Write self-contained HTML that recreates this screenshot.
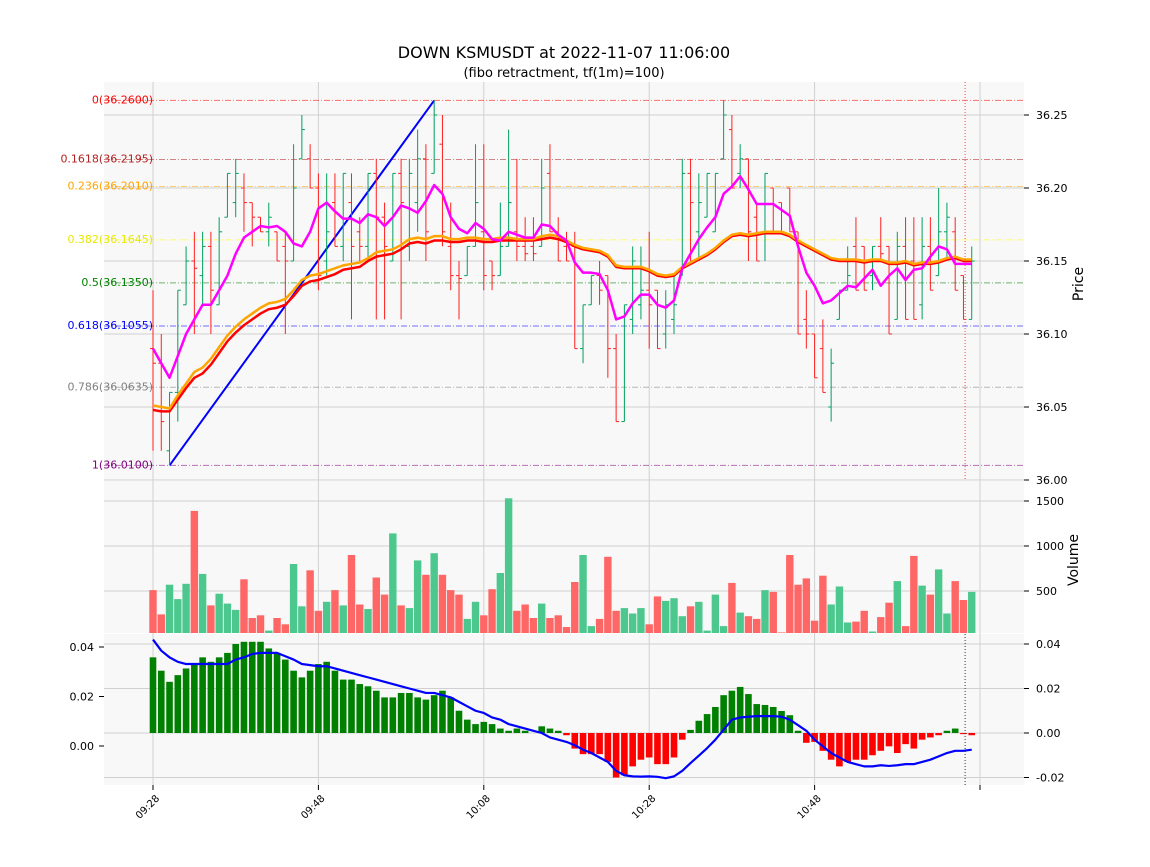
<!DOCTYPE html>
<html><head><meta charset="utf-8">
<style>
html,body{margin:0;padding:0;background:#fff;}
svg text{font-family:"DejaVu Sans","Liberation Sans",sans-serif;}
</style></head>
<body>
<svg id="chart" width="1150" height="862" viewBox="0 0 1150 862" xmlns="http://www.w3.org/2000/svg">
<text x="564" y="58" text-anchor="middle" font-size="16" fill="#000">DOWN KSMUSDT at 2022-11-07 11:06:00</text>
<text x="564" y="77" text-anchor="middle" font-size="13" fill="#000">(fibo retractment, tf(1m)=100)</text>
<rect x="104" y="82" width="920" height="398" fill="#f8f8f8"/>
<rect x="104" y="481" width="920" height="152" fill="#f8f8f8"/>
<rect x="104" y="634" width="920" height="151" fill="#f8f8f8"/>
<g id="grid"></g>
<g id="marks"></g>
<text transform="translate(1083,284) rotate(-90)" text-anchor="middle" font-size="14">Price</text>
<text transform="translate(1078,560) rotate(-90)" text-anchor="middle" font-size="14">Volume</text>
</svg>
<script>
const times=['09:28','09:48','10:08','10:28','10:48',''];
const timeTickIdx=[0,20,40,60,80,100];
const O=[36.09,36.08,36.02,36.06,36.12,36.15,36.14,36.16,36.12,36.18,36.19,36.20,36.19,36.18,36.17,36.17,36.16,36.15,36.22,36.22,36.20,36.15,36.19,36.16,36.19,36.17,36.16,36.21,36.18,36.15,36.21,36.16,36.19,36.22,36.21,36.23,36.16,36.14,36.14,36.16,36.17,36.15,36.14,36.16,36.17,36.16,36.16,36.16,36.21,36.17,36.16,36.16,36.09,36.12,36.14,36.14,36.09,36.04,36.11,36.12,36.13,36.13,36.10,36.11,36.14,36.21,36.17,36.18,36.17,36.22,36.24,36.21,36.22,36.18,36.17,36.20,36.19,36.20,36.17,36.11,36.10,36.09,36.05,36.11,36.13,36.16,36.16,36.14,36.16,36.16,36.11,36.16,36.15,36.12,36.16,36.14,36.17,36.17,36.14,36.11];
const H=[36.13,36.10,36.06,36.13,36.16,36.17,36.17,36.17,36.18,36.21,36.22,36.21,36.19,36.18,36.19,36.17,36.17,36.23,36.25,36.23,36.21,36.21,36.21,36.21,36.21,36.18,36.21,36.22,36.19,36.21,36.22,36.22,36.24,36.23,36.26,36.25,36.19,36.15,36.16,36.23,36.23,36.15,36.19,36.24,36.22,36.18,36.18,36.22,36.23,36.18,36.17,36.17,36.12,36.14,36.15,36.14,36.10,36.12,36.16,36.16,36.17,36.13,36.13,36.14,36.22,36.22,36.21,36.21,36.21,36.26,36.25,36.23,36.22,36.19,36.21,36.20,36.19,36.20,36.17,36.13,36.10,36.11,36.09,36.13,36.16,36.18,36.16,36.16,36.18,36.16,36.17,36.18,36.18,36.18,36.18,36.20,36.19,36.18,36.14,36.16];
const L=[36.02,36.02,36.01,36.04,36.12,36.10,36.12,36.10,36.12,36.18,36.18,36.17,36.16,36.17,36.16,36.15,36.10,36.15,36.22,36.20,36.13,36.14,36.16,36.15,36.11,36.15,36.15,36.11,36.11,36.15,36.11,36.15,36.17,36.15,36.21,36.16,36.13,36.11,36.14,36.16,36.13,36.13,36.14,36.16,36.15,36.15,36.15,36.16,36.17,36.15,36.15,36.09,36.08,36.12,36.12,36.07,36.04,36.04,36.10,36.11,36.09,36.09,36.09,36.10,36.14,36.15,36.15,36.18,36.17,36.22,36.20,36.20,36.15,36.15,36.15,36.17,36.17,36.17,36.10,36.09,36.07,36.06,36.04,36.11,36.13,36.13,36.13,36.13,36.15,36.10,36.11,36.11,36.11,36.11,36.13,36.14,36.15,36.13,36.11,36.11];
const C=[36.08,36.04,36.06,36.13,36.15,36.145,36.16,36.13,36.17,36.21,36.21,36.19,36.18,36.17,36.18,36.15,36.15,36.20,36.24,36.20,36.14,36.17,36.16,36.21,36.16,36.16,36.21,36.18,36.16,36.21,36.19,36.21,36.22,36.17,36.25,36.17,36.14,36.138,36.16,36.19,36.14,36.14,36.16,36.19,36.16,36.155,36.155,36.20,36.17,36.15,36.15,36.09,36.12,36.14,36.13,36.09,36.04,36.12,36.15,36.13,36.12,36.09,36.12,36.12,36.21,36.19,36.19,36.21,36.21,36.25,36.20,36.22,36.17,36.15,36.21,36.17,36.17,36.17,36.10,36.10,36.07,36.06,36.08,36.13,36.14,36.13,36.13,36.16,36.155,36.10,36.16,36.11,36.11,36.16,36.13,36.17,36.18,36.13,36.11,36.15];
const maRed=[36.048,36.047,36.047,36.055,36.063,36.070,36.073,36.079,36.087,36.095,36.101,36.106,36.110,36.114,36.117,36.118,36.120,36.126,36.133,36.136,36.137,36.139,36.141,36.144,36.145,36.146,36.150,36.153,36.154,36.155,36.158,36.162,36.163,36.162,36.164,36.164,36.163,36.163,36.164,36.164,36.163,36.163,36.164,36.164,36.164,36.164,36.164,36.165,36.166,36.165,36.163,36.160,36.158,36.157,36.156,36.153,36.146,36.145,36.145,36.145,36.143,36.140,36.139,36.140,36.145,36.148,36.151,36.154,36.158,36.163,36.167,36.168,36.167,36.168,36.169,36.169,36.169,36.167,36.163,36.160,36.157,36.154,36.151,36.150,36.150,36.150,36.149,36.150,36.150,36.148,36.148,36.149,36.147,36.148,36.148,36.149,36.151,36.152,36.150,36.150];
const maOrange=[36.051,36.050,36.049,36.058,36.066,36.074,36.077,36.083,36.091,36.099,36.105,36.110,36.114,36.118,36.121,36.122,36.124,36.130,36.137,36.140,36.141,36.143,36.145,36.147,36.148,36.149,36.152,36.156,36.157,36.158,36.161,36.165,36.166,36.165,36.167,36.167,36.165,36.165,36.166,36.166,36.165,36.165,36.166,36.166,36.165,36.165,36.165,36.167,36.168,36.167,36.164,36.161,36.159,36.158,36.157,36.154,36.147,36.146,36.146,36.146,36.144,36.141,36.140,36.141,36.146,36.149,36.152,36.155,36.159,36.164,36.168,36.169,36.168,36.169,36.170,36.170,36.170,36.168,36.164,36.161,36.158,36.155,36.152,36.151,36.151,36.151,36.150,36.151,36.151,36.149,36.149,36.150,36.148,36.149,36.149,36.150,36.152,36.153,36.151,36.151];
const maFast=[36.090,36.080,36.070,36.085,36.100,36.110,36.120,36.120,36.130,36.140,36.155,36.166,36.170,36.174,36.173,36.174,36.170,36.162,36.160,36.170,36.186,36.190,36.184,36.179,36.179,36.176,36.182,36.180,36.174,36.180,36.188,36.186,36.183,36.191,36.202,36.196,36.180,36.172,36.169,36.176,36.172,36.165,36.164,36.170,36.168,36.166,36.166,36.175,36.174,36.168,36.164,36.149,36.142,36.142,36.141,36.130,36.110,36.112,36.121,36.127,36.127,36.120,36.118,36.123,36.145,36.155,36.165,36.173,36.180,36.196,36.201,36.208,36.199,36.189,36.189,36.189,36.185,36.181,36.160,36.142,36.133,36.121,36.123,36.128,36.133,36.132,36.138,36.144,36.133,36.140,36.145,36.137,36.144,36.145,36.153,36.160,36.158,36.148,36.148,36.148];
const volume=[510,240,570,410,580,1390,690,340,470,360,290,630,200,230,60,200,130,800,330,730,280,380,510,340,900,350,300,650,460,1140,340,310,840,680,920,680,510,460,190,380,230,520,700,1530,280,350,200,360,200,230,100,600,900,110,190,880,280,310,250,310,130,440,390,420,220,330,380,60,460,110,590,260,220,190,510,490,40,900,570,640,170,670,350,550,150,160,280,50,210,370,610,110,890,560,460,740,250,610,400,490];
const macdHist=[.034,.028,.023,.026,.029,.031,.034,.032,.034,.036,.040,.041,.041,.041,.038,.036,.033,.028,.025,.028,.031,.032,.028,.024,.024,.022,.021,.019,.016,.016,.018,.018,.016,.015,.017,.019,.016,.010,.006,.004,.005,.004,.002,.001,.002,.001,.0,.003,.002,.001,-.001,-.007,-.0095,-.0095,-.0095,-.013,-.020,-.019,-.015,-.012,-.011,-.014,-.014,-.011,-.003,.0014,.0055,.0085,.0117,.017,.019,.0207,.0175,.013,.0126,.0117,.0099,.008,.001,-.0044,-.004,-.008,-.012,-.015,-.013,-.012,-.012,-.010,-.008,-.006,-.009,-.005,-.007,-.003,-.002,-.001,.001,.002,-.0005,-.001];
const macdLine=[.042,.037,.034,.032,.031,.031,.031,.031,.031,.031,.033,.034,.0355,.036,.036,.036,.0345,.033,.031,.0305,.030,.030,.029,.028,.027,.026,.025,.024,.023,.022,.021,.020,.019,.018,.018,.017,.016,.014,.012,.010,.009,.007,.006,.004,.003,.002,.001,.000,-.002,-.003,-.004,-.0055,-.0075,-.009,-.011,-.013,-.017,-.019,-.0195,-.0196,-.0195,-.0197,-.0203,-.0195,-.017,-.0135,-.0102,-.0068,-.003,.0015,.006,.007,.0073,.0076,.0076,.0076,.0073,.006,.0035,.001,-.003,-.006,-.009,-.011,-.013,-.014,-.015,-.015,-.0145,-.0148,-.0145,-.014,-.014,-.013,-.012,-.0105,-.009,-.008,-.008,-.0075];
const fibLevels=['0','0.1618','0.236','0.382','0.5','0.618','0.786','1'];
const fibPrices=[36.26,36.2195,36.201,36.1645,36.135,36.1055,36.0635,36.01];
const fibColors=['#ff0000','#b22222','#ffa500','#ffff00','#008000','#0000ff','#808080','#800080'];
const priceTicks=[36.00,36.05,36.10,36.15,36.20,36.25];
const volTicks=[500,1000,1500];
const macdTicks=[-0.02,0.00,0.02,0.04];
const macdLeftTicks=[0.00,0.02,0.04];
const trendStart=[2,36.01], trendEnd=[34,36.26];

const NS='http://www.w3.org/2000/svg';
const X0=153, DX=8.27;
const xs=i=>X0+i*DX;
const yP=p=>115+(36.25-p)*1460;
const yV=v=>636-v*0.09;
const yM=m=>733-m*2225;
const yML=m=>746-m*2475;
const grid=document.getElementById('grid'), marks=document.getElementById('marks');
function mk(tag,attrs,parent){const e=document.createElementNS(NS,tag);for(const k in attrs)e.setAttribute(k,attrs[k]);(parent||marks).appendChild(e);return e;}

timeTickIdx.forEach((t,k)=>{
  const x=xs(t);
  const g=mk('line',{x1:x,x2:x,y1:82,y2:785,stroke:'#d0d0d0','stroke-width':1},grid);
  
  
  const tk=mk('line',{x1:x,x2:x,y1:785,y2:790,stroke:'#000'},grid);
  
  
  if(times[k]){
    const tx=mk('text',{transform:`translate(${x+7},${799}) rotate(-45)`,'text-anchor':'end','font-size':10,fill:'#000'},grid);
    tx.textContent=times[k];
    
    
  }
});
priceTicks.forEach(p=>{
  const y=yP(p);
  const g=mk('line',{x1:104,x2:1024,y1:y,y2:y,stroke:'#d0d0d0'},grid);
  
  
  mk('line',{x1:1024,x2:1029,y1:y,y2:y,stroke:'#000'},grid);
  const t=mk('text',{x:1036,y:y+4,'font-size':11},grid);t.textContent=p.toFixed(2);
  
  
});
volTicks.forEach(v=>{
  const y=yV(v);
  const g=mk('line',{x1:104,x2:1024,y1:y,y2:y,stroke:'#d0d0d0'},grid);
  
  
  mk('line',{x1:1024,x2:1029,y1:y,y2:y,stroke:'#000'},grid);
  const t=mk('text',{x:1036,y:y+4,'font-size':11},grid);t.textContent=v;
  
  
});
macdTicks.forEach(m=>{
  const y=yM(m);
  const g=mk('line',{x1:104,x2:1024,y1:y,y2:y,stroke:'#d0d0d0'},grid);
  
  
  mk('line',{x1:1024,x2:1029,y1:y,y2:y,stroke:'#000'},grid);
  const t=mk('text',{x:1036,y:y+4,'font-size':11},grid);t.textContent=m.toFixed(2);
  
  
});
macdLeftTicks.forEach(m=>{
  const y=yML(m);
  mk('line',{x1:99,x2:104,y1:y,y2:y,stroke:'#000'},grid);
  const t=mk('text',{x:94,y:y+4,'font-size':11,'text-anchor':'end'},grid);t.textContent=m.toFixed(2);
  
  
});

fibLevels.forEach((lv,k)=>{
  const y=yP(fibPrices[k]);
  const l=mk('line',{x1:104,x2:1024,y1:y,y2:y,stroke:fibColors[k],'stroke-opacity':0.55,'stroke-dasharray':'6,2,1,2'});
  
  
  const t=mk('text',{x:153,y:y+3,'font-size':11,'text-anchor':'end',fill:fibColors[k]=='#ffff00'?'#e8e800':fibColors[k]});
  t.textContent=lv+'('+fibPrices[k].toFixed(4)+')';
  
  
});

const tl=mk('line',{x1:xs(trendStart[0]),y1:yP(trendStart[1]),x2:xs(trendEnd[0]),y2:yP(trendEnd[1]),stroke:'#0000ff','stroke-width':2});



O.forEach((o,i)=>{
  const x=xs(i), col=C[i]>=o?'#00a060':'#ff2020';
  const g=mk('g',{stroke:col,'stroke-width':1});
  
  
  mk('line',{x1:x,x2:x,y1:yP(H[i]),y2:yP(L[i])},g);
  mk('line',{x1:x-3,x2:x,y1:yP(o),y2:yP(o)},g);
  mk('line',{x1:x,x2:x+3,y1:yP(C[i]),y2:yP(C[i])},g);
});
function poly(arr,yf,col,w,name){
  const p=mk('polyline',{points:arr.map((v,i)=>xs(i)+','+yf(v)).join(' '),fill:'none',stroke:col,'stroke-width':w,'stroke-linejoin':'round'});
  
  
}
poly(maRed,yP,'#ff0000',2.5,'ma-slow-line');
poly(maOrange,yP,'#ffa500',2.5,'ma-mid-line');
poly(maFast,yP,'#ff00ff',2.5,'ma-fast-line');

volume.forEach((v,i)=>{
  const col=C[i]>=O[i]?'#4cc88e':'#ff6666';
  const r=mk('rect',{x:xs(i)-3.7,y:yV(v),width:7.4,height:Math.max(0,633-yV(v)),fill:col});
  
  
});
macdHist.forEach((m,i)=>{
  const y=yM(m),y0=yM(0);
  const r=mk('rect',{x:xs(i)-3.3,y:Math.min(y,y0),width:6.6,height:Math.abs(y-y0),fill:m>=0?'#008000':'#ff0000'});
  
  
});
poly(macdLine,yM,'#0000ff',2.2,'macd-line');

const cx=xs(98.2);
const vm=mk('line',{x1:cx,x2:cx,y1:82,y2:480,stroke:'#ff4444','stroke-dasharray':'1,2'});


mk('line',{x1:cx,x2:cx,y1:634,y2:785,stroke:'#333','stroke-dasharray':'1,2'});
</script>
</body></html>
